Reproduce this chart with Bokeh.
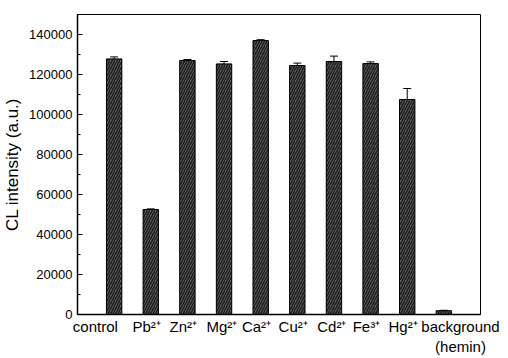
from bokeh.plotting import figure
from bokeh.models import (Range1d, LinearAxis, FixedTicker, SingleIntervalTicker,
                          NumeralTickFormatter, ColumnDataSource, Whisker, TeeHead)
from bokeh.embed import file_html
from bokeh.resources import INLINE

categories = ["control", "Pb²⁺", "Zn²⁺", "Mg²⁺", "Ca²⁺", "Cu²⁺", "Cd²⁺", "Fe³⁺", "Hg²⁺",
              "background\n(hemin)"]
values = [127800, 52500, 127000, 125300, 137000, 124500, 126500, 125500, 107500, 1900]
errors = [1000, 300, 500, 1200, 400, 1200, 2700, 800, 5500, 200]

# pixel nudges of the category labels (layout only, as in the reference)
label_nudge = [-19, -4, -5, -3, -4, -5, -3, -4, -5, 16]
NBSP_W = 4.17  # width of a no-break space at 15px Liberation Sans


def nudge(label, shift):
    n = int(round(2 * abs(shift) / NBSP_W))
    pad = "\u00a0" * n
    lines = label.split("\n")
    return "\n".join((pad + ln) if shift > 0 else (ln + pad) for ln in lines)


xs = list(range(1, len(categories) + 1))
src = ColumnDataSource(dict(
    x=xs, top=values,
    upper=[v + e for v, e in zip(values, errors)],
    lower=[v - e for v, e in zip(values, errors)],
))

p = figure(width=500, height=358, output_backend="svg", toolbar_location=None,
           x_range=Range1d(0, len(categories) + 1), y_range=Range1d(0, 150000),
           min_border_left=74, min_border_right=20, min_border_top=14, min_border_bottom=44,
           x_axis_location=None, y_axis_location=None)
p.grid.visible = False
p.outline_line_color = "black"
p.outline_line_width = 1
p.background_fill_color = "white"
p.border_fill_color = "white"

p.vbar(x="x", top="top", width=0.42, source=src, fill_color="#666666",
       hatch_pattern="/", hatch_color="#1a1a1a", hatch_scale=5, hatch_weight=1.5,
       line_color="black", line_width=1)

w = Whisker(source=src, base="x", upper="upper", lower="lower", line_color="black",
            line_width=1,
            upper_head=TeeHead(size=8, line_color="black", line_width=1),
            lower_head=TeeHead(size=8, line_color="black", line_width=1))
p.add_layout(w)

# bottom axis with category labels
xa = LinearAxis(ticker=FixedTicker(ticks=xs),
                major_label_overrides={x: nudge(c, d)
                                       for x, c, d in zip(xs, categories, label_nudge)})
xa.major_tick_in = 0
xa.major_tick_out = 0
xa.minor_tick_line_color = None
xa.major_label_text_font = "Liberation Sans"
xa.major_label_text_font_size = "15px"
xa.major_label_text_color = "black"
xa.major_label_standoff = 3
xa.axis_line_color = "black"
xa.axis_line_width = 1.5
p.add_layout(xa, "below")

# left axis
ya = LinearAxis(ticker=SingleIntervalTicker(interval=20000, num_minor_ticks=2),
                formatter=NumeralTickFormatter(format="0"))
ya.axis_label = "CL intensity (a.u.)"
ya.axis_label_text_font = "Liberation Sans"
ya.axis_label_text_font_style = "normal"
ya.axis_label_text_font_size = "17px"
ya.axis_label_text_color = "black"
ya.axis_label_standoff = 4
ya.major_label_text_font = "Liberation Sans"
ya.major_label_text_font_size = "13px"
ya.major_label_text_color = "black"
ya.major_label_standoff = 5
ya.major_tick_in = 5
ya.major_tick_out = 0
ya.minor_tick_in = 3
ya.minor_tick_out = 0
ya.axis_line_color = "black"
ya.axis_line_width = 1.5
p.add_layout(ya, "left")

open("out.html", "w").write(file_html(p, INLINE))
